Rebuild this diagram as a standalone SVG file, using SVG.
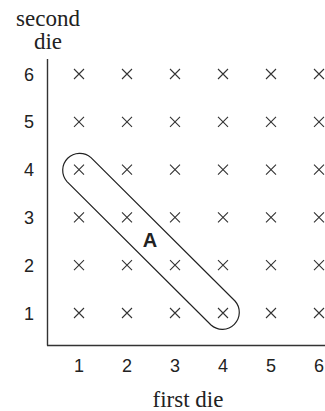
<svg xmlns="http://www.w3.org/2000/svg" width="325" height="411" viewBox="0 0 325 411">
<style>
.ser{font-family:"Liberation Serif","Times New Roman",serif;font-size:23px;fill:#222;text-anchor:middle}
.num{font-family:"Liberation Sans",Arial,sans-serif;font-size:18px;fill:#222;text-anchor:middle}
.ax{stroke:#333;stroke-width:1.4;fill:none}
.x{stroke:#333;stroke-width:1.1;fill:none}
</style>
<defs>
<path id="cr" class="x" d="M-5,-5L5,5M-5,5L5,-5"/>
</defs>
<g id="axes">
<line class="ax" x1="47.5" y1="59" x2="47.5" y2="345.5"/>
<line class="ax" x1="47" y1="345.5" x2="325" y2="345.5"/>
</g>
<g id="axis-titles">
<text class="ser" x="48" y="26">second</text>
<text class="ser" x="48" y="49">die</text>
<text class="ser" x="188" y="406.5">first die</text>
</g>
<g id="y-labels">
<text class="num" x="29" y="80.5">6</text>
<text class="num" x="29" y="128.3">5</text>
<text class="num" x="29" y="176.1">4</text>
<text class="num" x="29" y="223.9">3</text>
<text class="num" x="29" y="271.7">2</text>
<text class="num" x="29" y="319.5">1</text>
</g>
<g id="x-labels">
<text class="num" x="79" y="372">1</text>
<text class="num" x="127" y="372">2</text>
<text class="num" x="175" y="372">3</text>
<text class="num" x="223" y="372">4</text>
<text class="num" x="271" y="372">5</text>
<text class="num" x="319" y="372">6</text>
</g>
<g id="grid">
<g transform="translate(0,74)"><use href="#cr" x="79"/><use href="#cr" x="127"/><use href="#cr" x="175"/><use href="#cr" x="223"/><use href="#cr" x="271"/><use href="#cr" x="319"/></g>
<g transform="translate(0,121.8)"><use href="#cr" x="79"/><use href="#cr" x="127"/><use href="#cr" x="175"/><use href="#cr" x="223"/><use href="#cr" x="271"/><use href="#cr" x="319"/></g>
<g transform="translate(0,169.6)"><use href="#cr" x="79"/><use href="#cr" x="127"/><use href="#cr" x="175"/><use href="#cr" x="223"/><use href="#cr" x="271"/><use href="#cr" x="319"/></g>
<g transform="translate(0,217.4)"><use href="#cr" x="79"/><use href="#cr" x="127"/><use href="#cr" x="175"/><use href="#cr" x="223"/><use href="#cr" x="271"/><use href="#cr" x="319"/></g>
<g transform="translate(0,265.2)"><use href="#cr" x="79"/><use href="#cr" x="127"/><use href="#cr" x="175"/><use href="#cr" x="223"/><use href="#cr" x="271"/><use href="#cr" x="319"/></g>
<g transform="translate(0,313)"><use href="#cr" x="79"/><use href="#cr" x="127"/><use href="#cr" x="175"/><use href="#cr" x="223"/><use href="#cr" x="271"/><use href="#cr" x="319"/></g>
</g>
<g id="eventA">
<path d="M91,157.6 L235,301 A17,17 0 0 1 211,325 L67,181.6 A17,17 0 0 1 91,157.6 Z" fill="none" stroke="#222" stroke-width="1.2"/>
<text x="150" y="247" font-family="Liberation Sans,Arial,sans-serif" font-weight="bold" font-size="20" fill="#222" text-anchor="middle">A</text>
</g>
</svg>
